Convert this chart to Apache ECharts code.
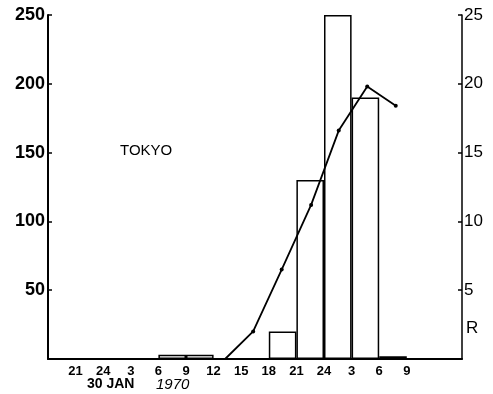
<!DOCTYPE html>
<html>
<head>
<meta charset="utf-8">
<script src="https://cdn.jsdelivr.net/npm/echarts@6/dist/echarts.min.js"></script>
<style>
  html, body { margin: 0; padding: 0; background: #fff; }
  #chart { width: 493px; height: 394px; }
</style>
</head>
<body>
<div id="chart"></div>
<script>
// x axis: hours since 18h, one tick every 3 hours
const tickLabels = ['', '21', '24', '3', '6', '9', '12', '15', '18', '21', '24', '3', '6', '9', '', '']
// 3-hour bins starting at 18h (histogram, left axis)
const binValues = [null, null, null, null, 3, 3, null, null, 20, 130, 250, 190, 2, null, null]
// R curve (right axis): [hours since 18h, R]
const rHours = [19.25, 22.3, 25.4, 28.6, 31.6, 34.7, 37.8]
const rValues = [0, 2, 6.5, 11.2, 16.6, 19.8, 18.4]

const font = 'Liberation Sans, Arial, sans-serif'
const chart = echarts.init(document.getElementById('chart'))

chart.setOption({
  animation: false,
  backgroundColor: '#fff',
  grid: { left: 48, right: 31, top: 15, bottom: 35, containLabel: false },
  xAxis: [
    {
      type: 'value',
      min: 0,
      max: 45,
      interval: 3,
      axisLine: { show: true, lineStyle: { color: '#000', width: 2 } },
      axisTick: { show: false },
      splitLine: { show: false },
      axisLabel: {
        color: '#000',
        fontFamily: font,
        fontWeight: 'bold',
        fontSize: 13,
        margin: 6,
        formatter: (v) => tickLabels[Math.round(v / 3)] || '',
      },
    },
    {
      type: 'category',
      data: binValues.map((_, i) => i),
      boundaryGap: true,
      show: false,
    },
  ],
  yAxis: [
    {
      type: 'value',
      min: 0,
      max: 250,
      interval: 50,
      axisLine: { show: true, lineStyle: { color: '#000', width: 2 } },
      axisTick: { show: true, inside: true, length: 4, lineStyle: { color: '#000', width: 1.5 } },
      splitLine: { show: false },
      axisLabel: {
        color: '#000',
        fontFamily: font,
        fontWeight: 'bold',
        fontSize: 18,
        margin: 3,
        formatter: (v) => (v === 0 ? '' : v),
      },
    },
    {
      type: 'value',
      position: 'right',
      min: 0,
      max: 25,
      interval: 5,
      axisLine: { show: true, lineStyle: { color: '#000', width: 1.5 } },
      axisTick: { show: true, inside: true, length: 4, lineStyle: { color: '#000', width: 1.5 } },
      splitLine: { show: false },
      axisLabel: {
        color: '#000',
        fontFamily: font,
        fontSize: 17,
        margin: 2,
        formatter: (v) => (v === 0 ? '' : v),
      },
    },
  ],
  series: [
    {
      type: 'bar',
      xAxisIndex: 1,
      yAxisIndex: 0,
      data: binValues,
      barWidth: '100%',
      itemStyle: { color: 'rgba(255,255,255,0)', borderColor: '#000', borderWidth: 1.5 },
    },
    {
      type: 'line',
      xAxisIndex: 0,
      yAxisIndex: 1,
      data: rHours.map((h, i) => ({
        value: [h, rValues[i]],
        symbol: i === 0 ? 'none' : 'circle',
      })),
      symbolSize: 4,
      lineStyle: { color: '#000', width: 1.8 },
      itemStyle: { color: '#000' },
      z: 5,
    },
  ],
  graphic: [
    { type: 'text', left: 120, top: 143, style: { text: 'TOKYO', fontFamily: font, fontSize: 15, fill: '#000' } },
    { type: 'text', left: 87, top: 377, style: { text: '30 JAN', fontFamily: font, fontWeight: 'bold', fontSize: 14, fill: '#000' } },
    { type: 'text', left: 156, top: 377, style: { text: '1970', fontFamily: font, fontStyle: 'italic', fontSize: 15, fill: '#000' } },
    { type: 'text', left: 466, top: 320, style: { text: 'R', fontFamily: font, fontSize: 17, fill: '#000' } },
  ],
})
</script>
</body>
</html>
